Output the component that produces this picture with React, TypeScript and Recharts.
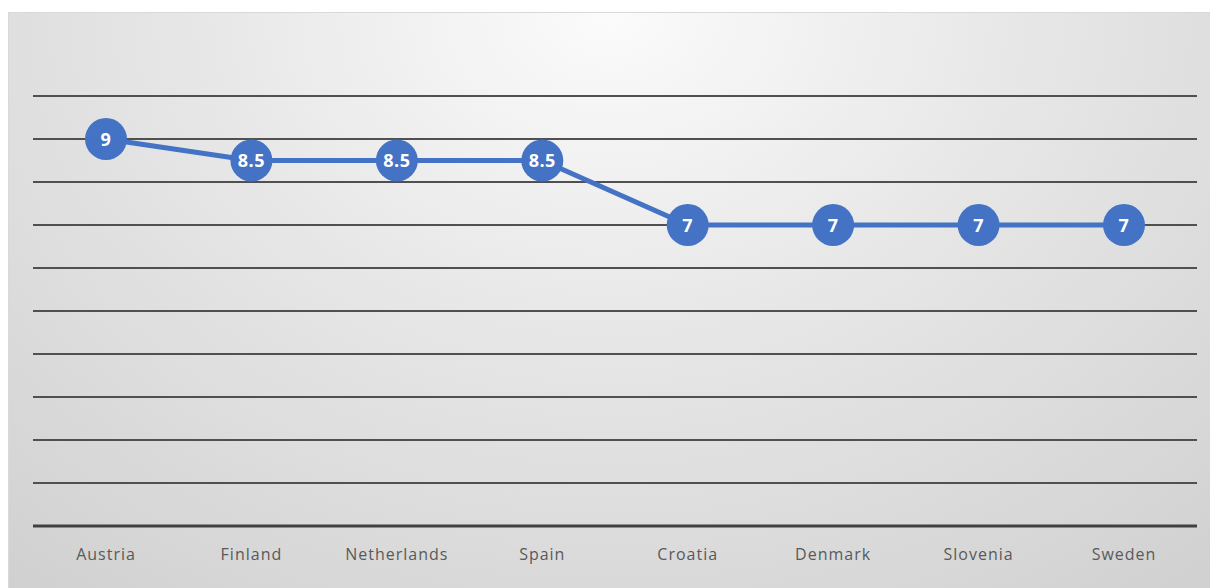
import React from "react";
import { LineChart, Line, XAxis, YAxis, CartesianGrid, LabelList } from "recharts";

const countries = ["Austria", "Finland", "Netherlands", "Spain", "Croatia", "Denmark", "Slovenia", "Sweden"];
const scores = [9, 8.5, 8.5, 8.5, 7, 7, 7, 7];
const yTicks = [0, 1, 2, 3, 4, 5, 6, 7, 8, 9, 10];

const data = countries.map((country, i) => ({ country, score: scores[i] }));

const BLUE = "#4472C4";

function ScoreLabel(props: any) {
  const { x, y, value } = props;
  return (
    <text
      x={x}
      y={y}
      dy={6.5}
      textAnchor="middle"
      fill="#fff"
      fontFamily="'Open Sans', sans-serif"
      fontWeight={700}
      fontSize={18}
      letterSpacing={0.5}
    >
      {value}
    </text>
  );
}

export default function App() {
  return (
    <div
      style={{
        position: "absolute",
        left: 8,
        top: 12,
        width: 1202,
        height: 576,
        boxSizing: "border-box",
        borderTop: "1px solid #d9d9d9",
        borderLeft: "1px solid #d9d9d9",
        overflow: "hidden",
        background: "radial-gradient(ellipse 80% 130% at 50% 0%, #fbfbfb 0%, #e6e6e6 45%, #d0d0d0 100%)",
      }}
    >
      <LineChart width={1202} height={576} data={data} margin={{ top: 83, right: 14, left: 24, bottom: 0 }}>
        <CartesianGrid vertical={false} stroke="#505050" strokeWidth={2} />
        <XAxis
          dataKey="country"
          height={63}
          padding={{ left: 73, right: 73 }}
          axisLine={{ stroke: "#404040", strokeWidth: 3 }}
          tickLine={false}
          tick={{ fill: "#595959", fontSize: 16, fontFamily: "'Open Sans', sans-serif", letterSpacing: 1 }}
          dy={15}
        />
        <YAxis hide domain={[0, 10]} ticks={yTicks} />
        <Line
          type="linear"
          dataKey="score"
          stroke={BLUE}
          strokeWidth={5}
          dot={{ r: 21, fill: BLUE, stroke: BLUE, strokeWidth: 0 }}
          isAnimationActive={false}
        >
          <LabelList dataKey="score" content={<ScoreLabel />} />
        </Line>
      </LineChart>
    </div>
  );
}
